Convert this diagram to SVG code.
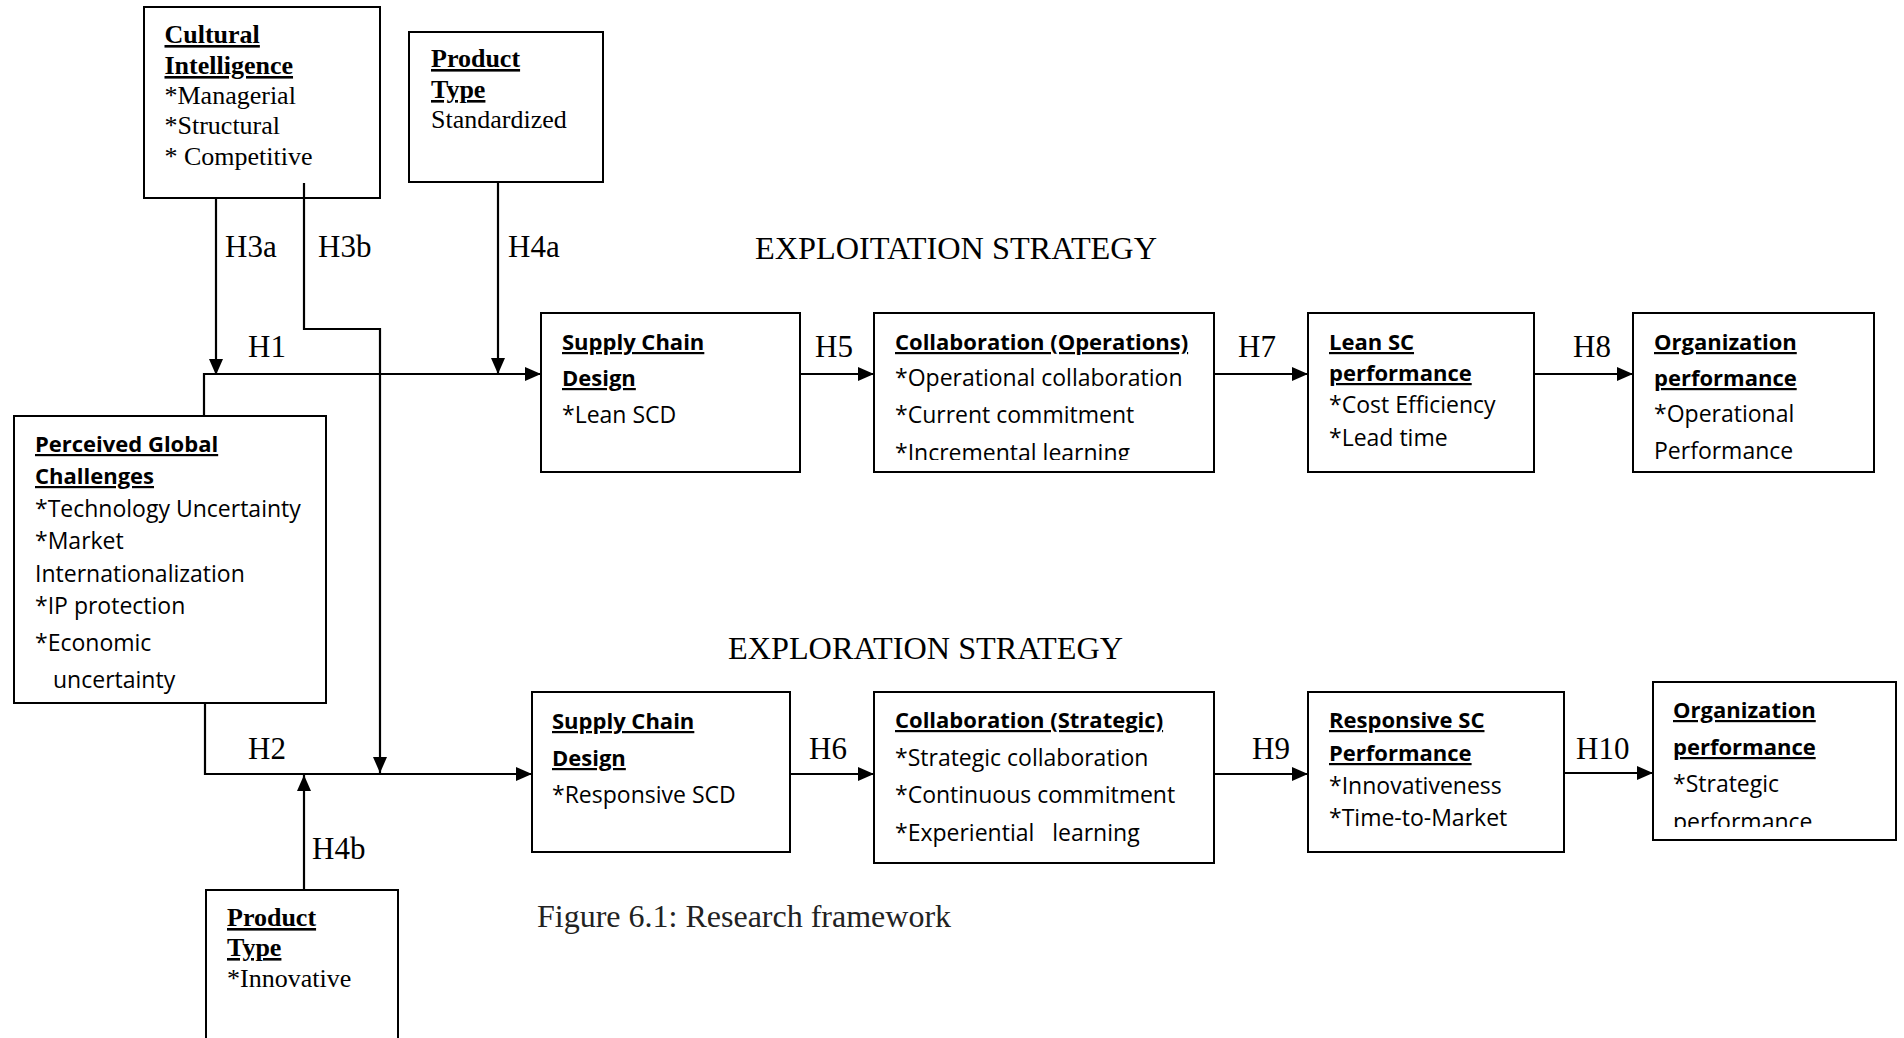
<svg xmlns="http://www.w3.org/2000/svg" width="1904" height="1038" viewBox="0 0 1904 1038">
<style>
.box{fill:#fff;stroke:#000;stroke-width:2}
.con{fill:none;stroke:#000;stroke-width:2.2}
.sr{font-family:"Liberation Serif","Times New Roman",serif;font-size:26px;fill:#000}
.srb{font-family:"Liberation Serif","Times New Roman",serif;font-size:26px;font-weight:bold;text-decoration:underline;text-decoration-thickness:2px;fill:#000}
.sn{font-family:"Open Sans","Noto Sans",sans-serif;font-size:23px;fill:#000}
.snb{font-family:"Open Sans","Noto Sans",sans-serif;font-size:22px;font-weight:bold;text-decoration:underline;text-decoration-thickness:2px;text-underline-offset:3px;fill:#000}
.lbl{font-family:"Liberation Serif","Times New Roman",serif;font-size:31px;fill:#000}
.ttl{font-family:"Liberation Serif","Times New Roman",serif;font-size:32px;fill:#000}
.cap{font-family:"Liberation Serif","Times New Roman",serif;font-size:32px;fill:#222}
</style>
<defs>
<marker id="ah" viewBox="0 0 16 14" refX="16" refY="7" markerWidth="16" markerHeight="14" markerUnits="userSpaceOnUse" orient="auto">
<path d="M0,0 L16,7 L0,14 Z" fill="#000"/>
</marker>
<clipPath id="clipOps"><rect x="874" y="313" width="340" height="147"/></clipPath>
<clipPath id="clipOrg2"><rect x="1653" y="682" width="243" height="145"/></clipPath>
</defs>
<rect width="1904" height="1038" fill="#fff"/>

<g id="cultural-intelligence">
<rect class="box" x="144" y="7" width="236" height="191"/>
<text class="srb" x="164.5" y="43">Cultural</text>
<text class="srb" x="164.5" y="74">Intelligence</text>
<text class="sr" x="164.5" y="104">*Managerial</text>
<text class="sr" x="164.5" y="134">*Structural</text>
<text class="sr" x="164.5" y="165">* Competitive</text>
</g>

<g id="product-type-standardized">
<rect class="box" x="409" y="32" width="194" height="150"/>
<text class="srb" x="431" y="67">Product</text>
<text class="srb" x="431" y="98">Type</text>
<text class="sr" x="431" y="128">Standardized</text>
</g>

<g id="perceived-global-challenges">
<rect class="box" x="14" y="416" width="312" height="287"/>
<text class="snb" x="35" y="452">Perceived Global</text>
<text class="snb" x="35" y="484">Challenges</text>
<text class="sn" x="35" y="517">*Technology Uncertainty</text>
<text class="sn" x="35" y="549">*Market</text>
<text class="sn" x="35" y="582">Internationalization</text>
<text class="sn" x="35" y="614">*IP protection</text>
<text class="sn" x="35" y="651">*Economic</text>
<text class="sn" x="53" y="688">uncertainty</text>
</g>

<g id="product-type-innovative">
<rect class="box" x="206" y="890" width="192" height="160"/>
<text class="srb" x="227" y="926">Product</text>
<text class="srb" x="227" y="956">Type</text>
<text class="sr" x="227" y="987">*Innovative</text>
</g>

<g id="scd-lean">
<rect class="box" x="541" y="313" width="259" height="159"/>
<text class="snb" x="562" y="350">Supply Chain</text>
<text class="snb" x="562" y="386">Design</text>
<text class="sn" x="562" y="423">*Lean SCD</text>
</g>

<g id="collab-operations">
<rect class="box" x="874" y="313" width="340" height="159"/>
<text class="snb" x="895" y="350">Collaboration (Operations)</text>
<text class="sn" x="895" y="386">*Operational collaboration</text>
<text class="sn" x="895" y="423">*Current commitment</text>
<text class="sn" x="895" y="461" clip-path="url(#clipOps)">*Incremental learning</text>
</g>

<g id="lean-sc-performance">
<rect class="box" x="1308" y="313" width="226" height="159"/>
<text class="snb" x="1329" y="350">Lean SC</text>
<text class="snb" x="1329" y="381">performance</text>
<text class="sn" x="1329" y="413">*Cost Efficiency</text>
<text class="sn" x="1329" y="446">*Lead time</text>
</g>

<g id="org-performance-operational">
<rect class="box" x="1633" y="313" width="241" height="159"/>
<text class="snb" x="1654" y="350">Organization</text>
<text class="snb" x="1654" y="386">performance</text>
<text class="sn" x="1654" y="422">*Operational</text>
<text class="sn" x="1654" y="459">Performance</text>
</g>

<g id="scd-responsive">
<rect class="box" x="532" y="692" width="258" height="160"/>
<text class="snb" x="552" y="729">Supply Chain</text>
<text class="snb" x="552" y="766">Design</text>
<text class="sn" x="552" y="803">*Responsive SCD</text>
</g>

<g id="collab-strategic">
<rect class="box" x="874" y="692" width="340" height="171"/>
<text class="snb" x="895" y="728">Collaboration (Strategic)</text>
<text class="sn" x="895" y="766">*Strategic collaboration</text>
<text class="sn" x="895" y="803">*Continuous commitment</text>
<text class="sn" x="895" y="841" xml:space="preserve">*Experiential   learning</text>
</g>

<g id="responsive-sc-performance">
<rect class="box" x="1308" y="692" width="256" height="160"/>
<text class="snb" x="1329" y="728">Responsive SC</text>
<text class="snb" x="1329" y="761">Performance</text>
<text class="sn" x="1329" y="794">*Innovativeness</text>
<text class="sn" x="1329" y="826">*Time-to-Market</text>
</g>

<g id="org-performance-strategic">
<rect class="box" x="1653" y="682" width="243" height="158"/>
<text class="snb" x="1673" y="718">Organization</text>
<text class="snb" x="1673" y="755">performance</text>
<text class="sn" x="1673" y="792">*Strategic</text>
<text class="sn" x="1673" y="830" clip-path="url(#clipOrg2)">performance</text>
</g>

<g id="connectors">
<path class="con" d="M216,198 V375" marker-end="url(#ah)"/>
<path class="con" d="M304,183 V329 H380 V773" marker-end="url(#ah)"/>
<path class="con" d="M498,182 V374" marker-end="url(#ah)"/>
<path class="con" d="M204,416 V374 H541" marker-end="url(#ah)"/>
<path class="con" d="M205,703 V774 H532" marker-end="url(#ah)"/>
<path class="con" d="M304,890 V775" marker-end="url(#ah)"/>
<path class="con" d="M800,374 H874" marker-end="url(#ah)"/>
<path class="con" d="M1214,374 H1308" marker-end="url(#ah)"/>
<path class="con" d="M1534,374 H1633" marker-end="url(#ah)"/>
<path class="con" d="M790,774 H874" marker-end="url(#ah)"/>
<path class="con" d="M1214,774 H1308" marker-end="url(#ah)"/>
<path class="con" d="M1564,773 H1653" marker-end="url(#ah)"/>
<text class="lbl" x="225" y="257">H3a</text>
<text class="lbl" x="318" y="257">H3b</text>
<text class="lbl" x="508" y="257">H4a</text>
<text class="lbl" x="248" y="357">H1</text>
<text class="lbl" x="248" y="759">H2</text>
<text class="lbl" x="312" y="859">H4b</text>
<text class="lbl" x="815" y="357">H5</text>
<text class="lbl" x="1238" y="357">H7</text>
<text class="lbl" x="1573" y="357">H8</text>
<text class="lbl" x="809" y="759">H6</text>
<text class="lbl" x="1252" y="759">H9</text>
<text class="lbl" x="1576" y="759">H10</text>
</g>

<text class="ttl" x="755" y="259" textLength="402" lengthAdjust="spacingAndGlyphs">EXPLOITATION STRATEGY</text>
<text class="ttl" x="728" y="659" textLength="395" lengthAdjust="spacingAndGlyphs">EXPLORATION STRATEGY</text>
<text class="cap" x="537" y="927">Figure 6.1: Research framework</text>
</svg>
